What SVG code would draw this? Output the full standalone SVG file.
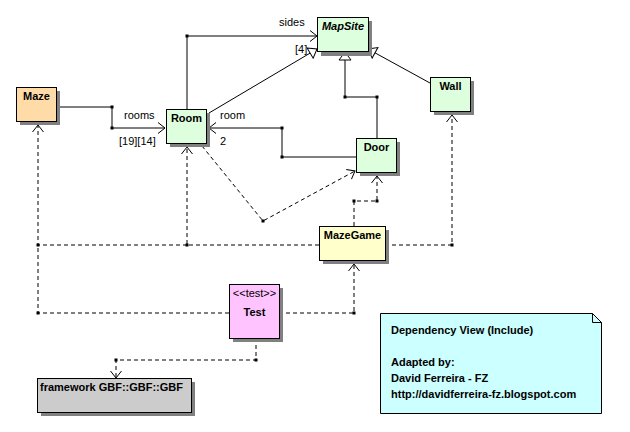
<svg xmlns="http://www.w3.org/2000/svg" width="630" height="432" viewBox="0 0 630 432">
<defs>
<style>
text{font-family:"Liberation Sans",Arial,sans-serif;font-size:11px;fill:#000}
.b{font-weight:bold}
.c{text-anchor:middle}
.sh{fill:#808080;stroke:none}
.box{stroke:#000;stroke-width:1}
.ln{fill:none;stroke:#000;stroke-width:1}
.dd{stroke-dasharray:4,3}
.dot{fill:#000}
</style>
<marker id="open" markerUnits="userSpaceOnUse" viewBox="-10 -8 12 16" markerWidth="12" markerHeight="16" refX="0" refY="0" orient="auto">
<path d="M-7,-5.5 L0,0 L-7,5.5" fill="none" stroke="#000" stroke-width="1"/>
</marker>
<marker id="tri" markerUnits="userSpaceOnUse" viewBox="-10 -8 12 16" markerWidth="12" markerHeight="16" refX="0" refY="0" orient="auto">
<path d="M-8,-6 L0,0 L-8,6 Z" fill="#fff" stroke="#000" stroke-width="1"/>
</marker>
</defs>
<rect width="630" height="432" fill="#fff"/>

<g id="connectors">
<path class="ln" d="M56,107 H112 V128 H165" marker-end="url(#open)"/>
<path class="ln" d="M187,109 V36 H317" marker-end="url(#open)"/>
<path class="ln" d="M209,113 L317,49" marker-end="url(#tri)"/>
<path class="ln" d="M430,83 L368,49" marker-end="url(#tri)"/>
<path class="ln" d="M377,138 V97 H345 V52" marker-end="url(#tri)"/>
<path class="ln" d="M356,157 H282 V128 H209" marker-end="url(#open)"/>
<path class="ln dd" d="M202,146 L263,221 L355,171" marker-end="url(#open)"/>
<path class="ln dd" d="M354,226 V201 H377 V176" marker-end="url(#open)"/>
<path class="ln dd" d="M385,245 H452 V115" marker-end="url(#open)"/>
<path class="ln dd" d="M319,245 H187 V147" marker-end="url(#open)"/>
<path class="ln dd" d="M187,245 H38 V125" marker-end="url(#open)"/>
<path class="ln dd" d="M229,313 H38 V245"/>
<path class="ln dd" d="M279,313 H354 V264" marker-end="url(#open)"/>
<path class="ln dd" d="M256,338 V360 H116 V378" marker-end="url(#open)"/>
<g class="dot">
<rect x="110.5" y="105.5" width="3" height="3"/>
<rect x="110.5" y="126.5" width="3" height="3"/>
<rect x="185.5" y="34.5" width="3" height="3"/>
<rect x="375.5" y="95.5" width="3" height="3"/>
<rect x="343.5" y="95.5" width="3" height="3"/>
<rect x="280.5" y="155.5" width="3" height="3"/>
<rect x="280.5" y="126.5" width="3" height="3"/>
<rect x="261.5" y="219.5" width="3" height="3"/>
<rect x="352.5" y="199.5" width="3" height="3"/>
<rect x="375.5" y="199.5" width="3" height="3"/>
<rect x="450.5" y="243.5" width="3" height="3"/>
<rect x="185.5" y="243.5" width="3" height="3"/>
<rect x="36.5" y="243.5" width="3" height="3"/>
<rect x="36.5" y="311.5" width="3" height="3"/>
<rect x="352.5" y="311.5" width="3" height="3"/>
<rect x="254.5" y="358.5" width="3" height="3"/>
<rect x="114.5" y="358.5" width="3" height="3"/>
</g>
<text x="279" y="26">sides</text>
<text x="295" y="53">[4]</text>
<text x="124" y="119">rooms</text>
<text x="119" y="145">[19][14]</text>
<text x="220" y="119">room</text>
<text x="220" y="145">2</text>
</g>

<g id="Maze">
<rect class="sh" x="20" y="91" width="40" height="34"/>
<rect class="box" x="16.5" y="87.5" width="40" height="34" fill="#ffdba8"/>
<text class="b c" x="36.5" y="100">Maze</text>
</g>
<g id="Room">
<rect class="sh" x="170" y="113" width="40" height="34"/>
<rect class="box" x="166.5" y="109.5" width="40" height="34" fill="#ddffdd"/>
<text class="b c" x="186.5" y="122">Room</text>
</g>
<g id="MapSite">
<rect class="sh" x="321" y="21" width="51" height="35"/>
<rect class="box" x="317.5" y="17.5" width="51" height="34" fill="#ddffdd"/>
<text class="b c" x="343" y="30" font-style="italic">MapSite</text>
</g>
<g id="Wall">
<rect class="sh" x="434" y="81" width="40" height="34"/>
<rect class="box" x="430.5" y="77.5" width="40" height="34" fill="#ddffdd"/>
<text class="b c" x="450.5" y="90">Wall</text>
</g>
<g id="Door">
<rect class="sh" x="360" y="142" width="40" height="34"/>
<rect class="box" x="356.5" y="138.5" width="40" height="34" fill="#ddffdd"/>
<text class="b c" x="376.5" y="151">Door</text>
</g>
<g id="MazeGame">
<rect class="sh" x="323" y="230" width="66" height="34"/>
<rect class="box" x="319.5" y="226.5" width="66" height="34" fill="#ffffcc"/>
<text class="b c" x="352.5" y="239">MazeGame</text>
</g>
<g id="Test">
<rect class="sh" x="233" y="288" width="50" height="54"/>
<rect class="box" x="229.5" y="284.5" width="50" height="54" fill="#ffc4ff"/>
<text class="c" x="254.5" y="297">&lt;&lt;test&gt;&gt;</text>
<text class="b c" x="254.5" y="316">Test</text>
</g>
<g id="framework">
<rect class="sh" x="41" y="382" width="154" height="34"/>
<rect class="box" x="37.5" y="378.5" width="154" height="34" fill="#cccccc"/>
<text class="b" x="40" y="391">framework GBF::GBF::GBF</text>
</g>
<g id="note">
<path class="box" d="M380.5,313.5 H592.5 L601.5,322.5 V413.5 H380.5 Z" fill="#ccffff"/>
<path class="ln" d="M592.5,313.5 V322.5 H601.5" fill="#fff"/>
<text class="b" x="391" y="334">Dependency View (Include)</text>
<text class="b" x="391" y="366">Adapted by:</text>
<text class="b" x="391" y="382">David Ferreira - FZ</text>
<text class="b" x="391" y="398">http://davidferreira-fz.blogspot.com</text>
</g>
</svg>
